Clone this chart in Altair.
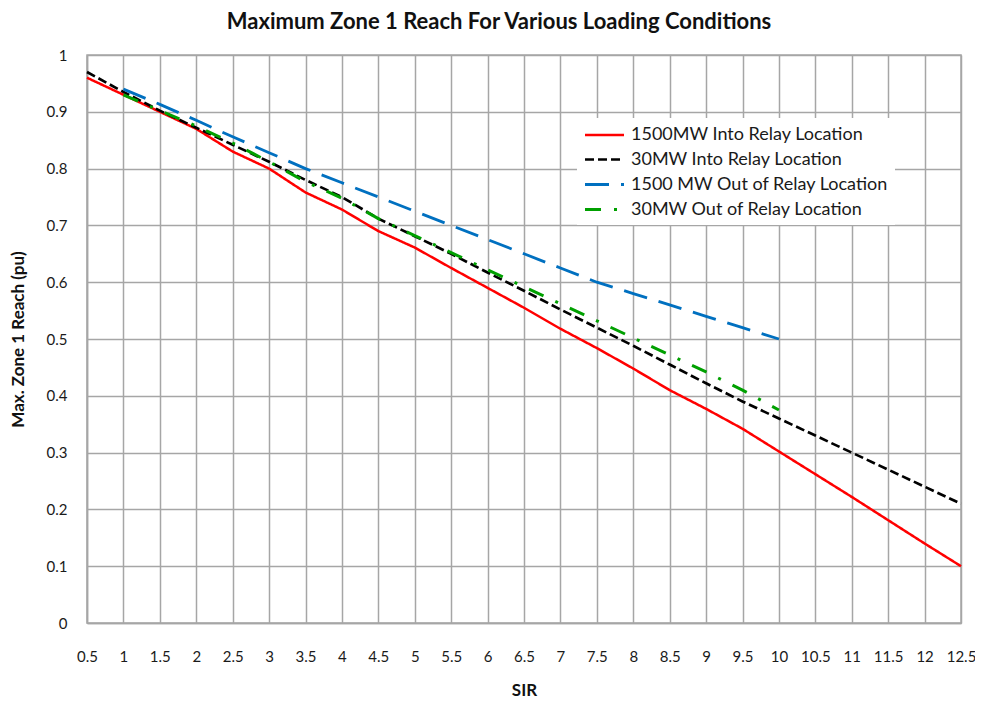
import altair as alt
import pandas as pd

sir = [0.5, 1, 1.5, 2, 2.5, 3, 3.5, 4, 4.5, 5, 5.5, 6, 6.5, 7, 7.5, 8, 8.5, 9, 9.5, 10, 10.5, 11, 11.5, 12, 12.5]

series_names = [
    "1500MW Into Relay Location",
    "30MW Into Relay Location",
    "1500 MW Out of Relay Location",
    "30MW Out of Relay Location",
]

red_1500_into = [0.96, 0.93, 0.90, 0.87, 0.83, 0.80, 0.758, 0.728, 0.69, 0.661, 0.625, 0.59, 0.555, 0.518, 0.484, 0.448, 0.41, 0.377, 0.342, 0.302, 0.262, 0.222, 0.181, 0.14, 0.10]
black_30_into = [0.97, 0.935, 0.902, 0.872, 0.842, 0.812, 0.78, 0.75, 0.712, 0.681, 0.65, 0.617, 0.585, 0.552, 0.52, 0.488, 0.455, 0.422, 0.39, 0.36, 0.33, 0.30, 0.27, 0.24, 0.21]
sir_out = [1, 1.5, 2, 2.5, 3, 3.5, 4, 4.5, 5, 5.5, 6, 6.5, 7, 7.5, 8, 8.5, 9, 9.5, 10]
blue_1500_out = [0.94, 0.913, 0.885, 0.856, 0.828, 0.80, 0.775, 0.75, 0.725, 0.70, 0.675, 0.65, 0.625, 0.60, 0.58, 0.56, 0.54, 0.52, 0.50]
green_30_out = [0.93, 0.902, 0.875, 0.845, 0.812, 0.777, 0.748, 0.712, 0.682, 0.652, 0.622, 0.592, 0.562, 0.532, 0.502, 0.472, 0.442, 0.41, 0.375]

colors = ["#FF0000", "#000000", "#0070C0", "#00A000"]
dashes = [[1, 0], [9, 4], [24, 12], [16, 13, 3, 13]]
widths = [2.5, 3, 3, 3.5]

x_ticks = sir
y_ticks = [0, 0.1, 0.2, 0.3, 0.4, 0.5, 0.6, 0.7, 0.8, 0.9, 1]

rows = []
for xs, ys, name in [
    (sir, red_1500_into, series_names[0]),
    (sir, black_30_into, series_names[1]),
    (sir_out, blue_1500_out, series_names[2]),
    (sir_out, green_30_out, series_names[3]),
]:
    for xv, yv in zip(xs, ys):
        rows.append({"SIR": xv, "Reach": yv, "Series": name, "order": series_names.index(name)})
df = pd.DataFrame(rows)

FONT = "Lato"

legend_cfg = alt.Legend(title=None, orient="none", legendX=490, legendY=63)

chart = (
    alt.Chart(df)
    .mark_line(strokeCap="butt", strokeJoin="round")
    .encode(
        x=alt.X(
            "SIR:Q",
            scale=alt.Scale(domain=[0.5, 12.5], nice=False, zero=False),
            axis=alt.Axis(
                title="SIR",
                values=x_ticks,
                format="~g",
                labelPadding=26,
                titlePadding=18,
                labelFlush=False,
            ),
        ),
        y=alt.Y(
            "Reach:Q",
            scale=alt.Scale(domain=[0, 1], nice=False),
            axis=alt.Axis(
                title="Max. Zone 1 Reach (pu)",
                values=y_ticks,
                format=".1~f",
                labelPadding=20,
                titlePadding=19,
            ),
        ),
        color=alt.Color(
            "Series:N",
            scale=alt.Scale(domain=series_names, range=colors),
            sort=series_names,
            legend=legend_cfg,
        ),
        strokeDash=alt.StrokeDash(
            "Series:N",
            scale=alt.Scale(domain=series_names, range=dashes),
            sort=series_names,
            legend=legend_cfg,
        ),
        strokeWidth=alt.StrokeWidth(
            "Series:N",
            scale=alt.Scale(domain=series_names, range=widths),
            legend=None,
        ),
        order=alt.Order("order:Q"),
    )
    .properties(
        width=874,
        height=568,
        title=alt.TitleParams(
            "Maximum Zone 1 Reach For Various Loading Conditions",
            fontSize=22,
            font=FONT,
            fontWeight="bold",
            color="#111111",
            anchor="middle",
            dx=-25,
            offset=14,
        ),
        autosize=alt.AutoSizeParams(type="none"),
        padding={"left": 79, "top": 47, "right": 14, "bottom": 76},
    )
    .configure_view(stroke="#a6a6a6", strokeWidth=1.5)
    .configure_axis(
        grid=True,
        gridColor="#a6a6a6",
        gridWidth=1.5,
        domain=True,
        domainColor="#a6a6a6",
        domainWidth=1.5,
        ticks=False,
        labelFont=FONT,
        labelFontSize=15,
        labelColor="#1a1a1a",
        titleFont=FONT,
        titleFontSize=17,
        titleFontWeight="bold",
        titleColor="#111111",
    )
    .configure_legend(
        symbolType="M-2,0H2",
        symbolSize=380,
        symbolStrokeWidth=3,
        symbolOffset=10,
        labelFont=FONT,
        labelFontSize=18,
        labelColor="#1a1a1a",
        labelOffset=15,
        fillColor="white",
        padding=6,
        rowPadding=4,
        labelLimit=400,
    )
)

chart.save("out.html", embed_options={"renderer": "svg", "actions": False})
